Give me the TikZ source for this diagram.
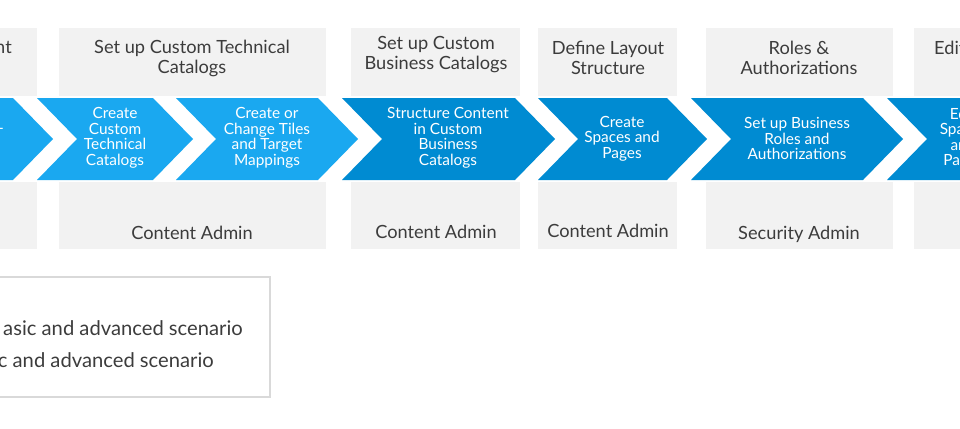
\documentclass[tikz,border=0pt]{standalone}
\usepackage{fontspec}
\setmainfont{Lato}
\usepackage{tikz}
\definecolor{lightblue}{HTML}{1AA8F0}
\definecolor{darkblue}{HTML}{008BD2}
\definecolor{panelgray}{HTML}{F2F2F2}
\definecolor{textgray}{HTML}{3C3C3C}
\definecolor{framegray}{HTML}{D9D9D9}

\begin{document}
\begin{tikzpicture}[x=1pt, y=-1pt,
  title/.style={text=textgray, align=center, inner sep=0pt, font=\fontsize{18.2}{20}\selectfont},
  stepname/.style={text=white, align=center, inner sep=0pt, font=\fontsize{15.4}{15.5}\selectfont},
  legend/.style={text=textgray, inner sep=0pt, font=\fontsize{20.2}{22}\selectfont}]
\useasboundingbox (0,0) rectangle (960,428);
\clip (0,0) rectangle (960,428);
% gray panels behind the steps
\foreach \l/\r in {-40/37,59/326,351/520,538/677,706/893,914/1000}
  \fill[panelgray] (\l,28) rectangle (\r,249);
\fill[white] (-10,96) rectangle (970,182);
% chevrons
\foreach \l/\r/\c in {-60/13/lightblue,37/153/lightblue,176/318/lightblue,342/515/darkblue,538/667/darkblue,691/863/darkblue,887/1000/darkblue}
  \fill[\c] (\l,98) -- (\r,98) -- ({\r+40},139) -- (\r,180) -- (\l,180) -- ({\l+40},139) -- cycle;
% titles
\node[title, anchor=east] (t0) at (12,47) {nt};
\node[title] (t1) at (192,58) {Set up Custom Technical\\Catalogs};
\node[title] (t2) at (436,55) {Set up Custom\\Business Catalogs};
\node[title] (t3) at (608,58) {Define Layout\\Structure};
\node[title] (t4) at (799,58) {Roles \&\\Authorizations};
\node[title, anchor=west] (t5) at (934,48) {Edit};
% steps
\node[stepname, anchor=east] (s0) at (4,131) {-};
\node[stepname] (s1) at (115,138) {Create\\Custom\\Technical\\Catalogs};
\node[stepname] (s2) at (267,138) {Create or\\Change Tiles\\and Target\\Mappings};
\node[stepname] (s3) at (448,138) {Structure Content\\in Custom\\Business\\Catalogs};
\node[stepname] (s4) at (622,138.5) {Create\\Spaces and\\Pages};
\node[stepname] (s5) at (797,138.5) {Set up Business\\Roles and\\Authorizations};
\node[stepname] (s6) at (963,138) {Edit\\Spaces\\and\\Pages};
% roles
\node[title] (r1) at (192,233) {Content Admin};
\node[title] (r2) at (436,232) {Content Admin};
\node[title] (r3) at (608,231) {Content Admin};
\node[title] (r4) at (799,234) {Security Admin};
% legend
\draw[framegray, line width=2pt] (-10,277) rectangle (270,397);
\node[legend, anchor=east] (l1) at (243,328) {asic and advanced scenario};
\node[legend, anchor=east] (l2) at (214,360) {c and advanced scenario};
\end{tikzpicture}
\end{document}
